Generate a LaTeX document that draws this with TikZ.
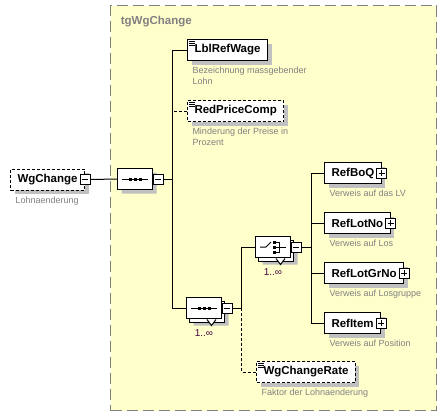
\documentclass[tikz,border=0pt]{standalone}
\usepackage{fontspec}
\setmainfont{Liberation Sans}
\usetikzlibrary{shapes.misc,shadows,positioning}
\definecolor{groupfill}{RGB}{255,255,204}
\definecolor{groupline}{RGB}{128,128,128}
\definecolor{shadowgray}{RGB}{192,192,192}
\definecolor{descgray}{RGB}{128,128,128}
\definecolor{occcolor}{RGB}{64,0,64}

\begin{document}
\begin{tikzpicture}[x=1pt, y=-1pt, line width=1pt]
    % Define styles
    \tikzstyle{group} = [draw=groupline, fill=groupfill, dash pattern=on 11pt off 5pt, line width=1.2pt, anchor=north west, minimum width=326pt, minimum height=405pt, inner sep=0pt]
    \tikzstyle{elem} = [draw, fill=white, anchor=north west, minimum height=21pt, inner xsep=7pt, inner ysep=0pt, font=\bfseries\fontsize{11.5}{13}\selectfont]
    \tikzstyle{optional} = [dash pattern=on 3pt off 2pt]
    \tikzstyle{boxshadow} = [general shadow={fill=shadowgray, shadow xshift=4pt, shadow yshift=-4pt}]
    \tikzstyle{multi} = [general shadow={fill=shadowgray, shadow xshift=7pt, shadow yshift=-7pt}, general shadow={draw, fill=white, shadow xshift=3pt, shadow yshift=-4pt}]
    \tikzstyle{compo} = [chamfered rectangle, chamfered rectangle xsep=5pt, chamfered rectangle ysep=5pt, draw, fill=white, anchor=west, minimum width=35pt, minimum height=21pt, inner sep=0pt]
    \tikzstyle{desc} = [anchor=north west, inner sep=0pt, align=left, text=descgray, font=\fontsize{9}{11}\selectfont]
    \tikzstyle{occ} = [inner sep=0pt, text=occcolor, font=\fontsize{10}{12}\selectfont]
    \tikzstyle{btnminus} = [draw, fill=white, minimum size=10pt, inner sep=0pt, path picture={\draw[line width=0.8pt] ([xshift=2pt]path picture bounding box.west) -- ([xshift=-2pt]path picture bounding box.east);}]
    \tikzstyle{btnplus} = [draw, fill=white, minimum size=10pt, inner sep=0pt, path picture={\draw[line width=0.8pt] ([xshift=2pt]path picture bounding box.west) -- ([xshift=-2pt]path picture bounding box.east); \draw[line width=0.8pt] ([yshift=-2pt]path picture bounding box.north) -- ([yshift=2pt]path picture bounding box.south);}]

    \useasboundingbox (0,0) rectangle (447,418);

    % Group box
    \node[group] (tg) at (110,5) {};
    \node[anchor=base west, text=groupline, font=\bfseries\fontsize{11.5}{13}\selectfont] (tglabel) at (117,24) {tgWgChange};

    % Root element
    \node[elem, optional, boxshadow] (wgch) at (10,168.5) {WgChange\hspace{7pt}};
    \node[btnminus] (wgchm) at (wgch.east) {};
    \node[desc, below right=5.5pt and 5pt of wgch.south west] (wgchd) {Lohnaenderung};

    % Compositors
    \node[compo, boxshadow] (seqa) at (117,179) {};
    \node[btnminus] (seqam) at ([xshift=5pt]seqa.east) {};
    \node[compo, multi] (seqb) at (186,308) {};
    \node[btnminus] (seqbm) at ([xshift=5pt]seqb.east) {};
    \node[occ, below=10.5pt of seqb.south] (seqbo) {1..∞};
    \node[compo, multi] (chc) at (255,247) {};
    \node[btnminus] (chcm) at ([xshift=5pt]chc.east) {};
    \node[occ, below=10.5pt of chc.south] (chco) {1..∞};

    % Child elements
    \node[elem, boxshadow] (lbl) at (187,39) {LblRefWage};
    \node[desc, below right=5.5pt and 5pt of lbl.south west] (lbld) {Bezeichnung massgebender\\Lohn};
    \node[elem, optional, boxshadow] (red) at (187,100) {RedPriceComp};
    \node[desc, below right=5.5pt and 5pt of red.south west] (redd) {Minderung der Preise in\\Prozent};
    \node[elem, boxshadow] (boq) at (324,162) {RefBoQ\hspace{8pt}};
    \node[btnplus] (boqp) at (boq.east) {};
    \node[desc, below right=5.5pt and 5pt of boq.south west] (boqd) {Verweis auf das LV};
    \node[elem, boxshadow] (lotno) at (324,212) {RefLotNo\hspace{8pt}};
    \node[btnplus] (lotnop) at (lotno.east) {};
    \node[desc, below right=5.5pt and 5pt of lotno.south west] (lotnod) {Verweis auf Los};
    \node[elem, boxshadow] (lotgrno) at (324,262) {RefLotGrNo\hspace{8pt}};
    \node[btnplus] (lotgrnop) at (lotgrno.east) {};
    \node[desc, below right=5.5pt and 5pt of lotgrno.south west] (lotgrnod) {Verweis auf Losgruppe};
    \node[elem, boxshadow] (item) at (324,312) {RefItem\hspace{8pt}};
    \node[btnplus] (itemp) at (item.east) {};
    \node[desc, below right=5.5pt and 5pt of item.south west] (itemd) {Verweis auf Position};
    \node[elem, optional, boxshadow] (rate) at (256,361) {WgChangeRate};
    \node[desc, below right=5.5pt and 5pt of rate.south west] (rated) {Faktor der Lohnaenderung};

    % Simple content marks
    \foreach \n in {lbl,red,rate}
        \foreach \k in {2,4,6}
            \draw[line width=0.7pt] (\n.north west) ++(2,\k) -- ++(6,0);

    % Compositor symbols
    \foreach \s in {seqa,seqb} {
        \draw (\s.center) ++(-13,0) -- ++(26,0);
        \foreach \d in {-5,0,5}
            \fill (\s.center) ++(\d-1.5,-1.5) rectangle ++(3,3);
    }
    \draw (chc.center) ++(-13,0) -- ++(6,0) -- ++(5,-5);
    \foreach \d in {-5,0,5}
        \fill (chc.center) ++(-0.5,\d-1.5) rectangle ++(3,3);
    \draw (chc.center) ++(2.5,-5) -- ++(4,0) -- ++(0,10) -- ++(-4,0);
    \draw (chc.center) ++(2.5,0) -- ++(10.5,0);
    \foreach \s in {seqb,chc}
        \draw[fill=white] (\s.south) ++(3,0.5) -- ++(4.5,6) -- ++(4.5,-6);

    % Connectors
    \draw (wgchm.east) -- (seqa.west);
    \draw (seqam.east) -- ++(9,0) coordinate (spine) |- (lbl.west);
    \draw[optional] (red.west) -- (red.west -| spine);
    \draw (spine) |- (seqb.west);
    \draw (seqbm.east) -- ++(9,0) coordinate (fork) |- (chc.west);
    \draw[optional] (fork) |- (rate.west);
    \draw (chcm.east) -- ++(10,0) coordinate (fan);
    \foreach \n in {boq,lotno,lotgrno,item}
        \draw (fan) |- (\n.west);
\end{tikzpicture}
\end{document}
